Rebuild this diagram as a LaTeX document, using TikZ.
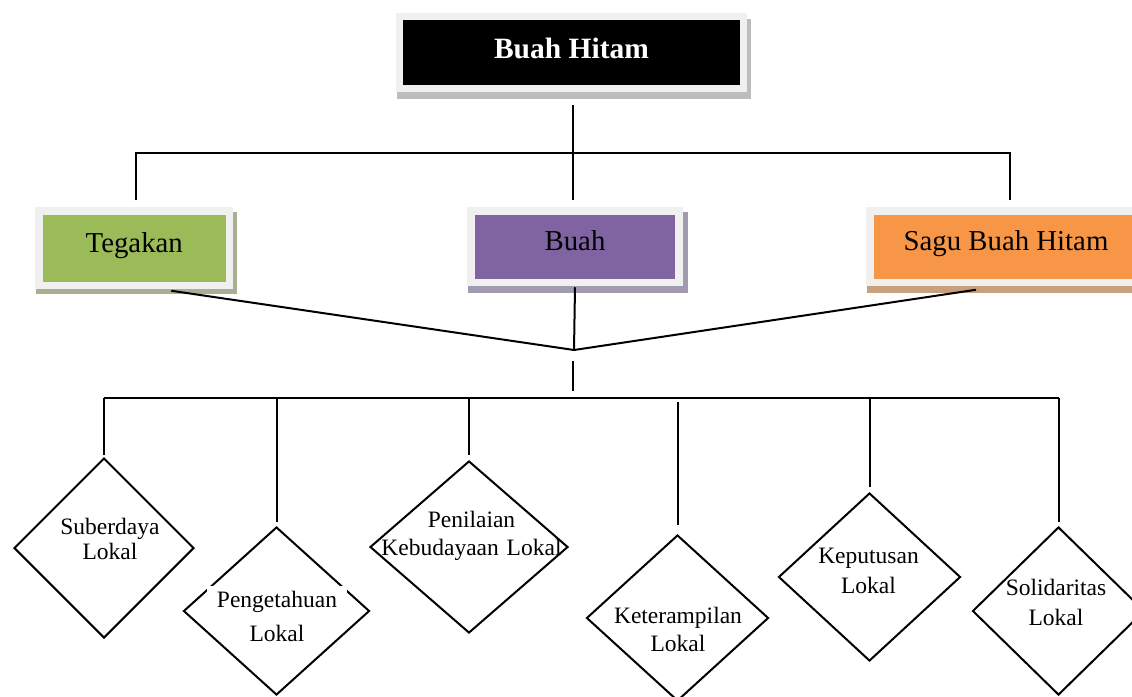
\documentclass[tikz,border=0pt]{standalone}
\usepackage{fontspec}
\setmainfont{Liberation Serif}
\usetikzlibrary{calc,shapes.geometric}
\pgfdeclarelayer{back}
\pgfsetlayers{back,main}

\definecolor{framegray}{HTML}{F0F0F0}
\definecolor{topshade}{HTML}{BDBDBD}
\definecolor{tegfill}{HTML}{9BBB59}
\definecolor{tegshade}{HTML}{A7B090}
\definecolor{buahfill}{HTML}{8064A2}
\definecolor{buahshade}{HTML}{A29AAE}
\definecolor{sagufill}{HTML}{F79646}
\definecolor{sagushade}{HTML}{C9A07E}

\tikzset{
  tierbox/.style={rectangle, draw=framegray, line width=7.5pt, inner sep=0pt,
    text height=20pt, text depth=12pt, font=\fontsize{28.8}{34}\selectfont},
  link/.style={line width=2pt, draw=black},
  factor/.style={diamond, draw=black, line width=2pt, inner sep=0pt},
  lbl/.style={text width=200pt, align=center, anchor=base, inner sep=0pt,
    font={\fontsize{23.5}{#1}\selectfont}},
}

\begin{document}
\begin{tikzpicture}[x=1pt,y=1pt]
\useasboundingbox (0,0) rectangle (1132,-696);
\begin{pgfonlayer}{back}
  \fill[white] (0,0) rectangle (1132,-696);
\end{pgfonlayer}
\clip (0,0) rectangle (1132,-696);

% top level and the three parts
\node[tierbox, fill=black, text=white, font=\bfseries\fontsize{29.5}{34}\selectfont,
      text depth=9pt, minimum width=344pt, minimum height=72pt] (hb) at (571.5,-52.5) {Buah Hitam};
\node[tierbox, fill=tegfill, minimum width=190.5pt, minimum height=74.5pt] (tg) at (134.25,-248.25) {Tegakan};
\node[tierbox, fill=buahfill, minimum width=208pt, minimum height=71.5pt] (bh) at (575,-246.75) {Buah};
\node[tierbox, fill=sagufill, minimum width=272pt, minimum height=71.5pt] (sg) at (1006,-246.75) {Sagu Buah Hitam};

% box shadows
\begin{pgfonlayer}{back}
  \fill[topshade]  ($(hb.north west)+(1,-6)$) rectangle ($(hb.south east)+(4,-7)$);
  \fill[tegshade]  ($(tg.north west)+(1,-5)$) rectangle ($(tg.south east)+(4,-5)$);
  \fill[buahshade] ($(bh.north west)+(1,-5)$) rectangle ($(bh.south east)+(5,-7)$);
  \fill[sagushade] ($(sg.north west)+(1,-5)$) rectangle ($(sg.south east)+(5,-7)$);
\end{pgfonlayer}

% upper connectors
\coordinate (j0) at (573,-153);
\draw[link] ($(hb.south)+(1.5,-13)$) -- (j0);
\draw[link] ($(tg.north)+(1.75,7)$) |- (j0) -| ($(sg.north)+(4,7)$);
\draw[link] (j0) -- ($(bh.north)+(-2,7)$);

% local factors
\node[factor, minimum width=180pt, minimum height=180pt] (d1) at (104,-548) {};
\node[factor, minimum width=186pt, minimum height=168pt] (d2) at (276.5,-611) {};
\node[factor, minimum width=198pt, minimum height=172pt] (d3) at (469,-547) {};
\node[factor, minimum width=182pt, minimum height=166pt] (d4) at (677.5,-618) {};
\node[factor, minimum width=182pt, minimum height=168pt] (d5) at (869.5,-577) {};
\node[factor, minimum width=172pt, minimum height=168pt] (d6) at (1058.5,-611) {};

\node[lbl=25pt] (t1) at (110,-534) {Suberdaya\\Lokal};
\node[lbl=34pt, fill=white, text width=132pt, inner xsep=4pt, inner ysep=5pt] (t2a) at (277,-607) {Pengetahuan};
\node[lbl=34pt] (t2b) at (277,-641) {Lokal};
\node[lbl=28pt] (t3) at (471.5,-527) {Penilaian\\Kebudayaan Lokal};
\node[lbl=28pt] (t4) at (678,-623) {Keterampilan\\Lokal};
\node[lbl=30pt] (t5) at (868.5,-563) {Keputusan\\Lokal};
\node[lbl=30pt] (t6) at (1056,-595) {Solidaritas\\Lokal};

% lower connectors
\coordinate (mj) at (574,-350);
\draw[link] ($(tg.south)+(37,-1.5)$) -- (mj);
\draw[link] ($(sg.south)+(-30,-3.5)$) -- (mj);
\draw[link] ($(bh.south)+(0,-1)$) -- (mj);
\draw[link] ($(mj)+(-1,-11)$) -- ++(0,-30);

\coordinate (bus) at (0,-398);
\draw[link] (d1.north |- bus) -- (d6.north |- bus);
\draw[link] (d1.north |- bus) -- ($(d1.north)+(0,2)$);
\draw[link] (d2.north |- bus) -- ($(d2.north)+(0,4)$);
\draw[link] (d3.north |- bus) -- ($(d3.north)+(0,5)$);
\draw[link] ($(d4.north |- bus)+(0,-4)$) -- ($(d4.north)+(0,9)$);
\draw[link] (d5.north |- bus) -- ($(d5.north)+(0,5)$);
\draw[link] (d6.north |- bus) -- ($(d6.north)+(0,4)$);
\end{tikzpicture}
\end{document}
